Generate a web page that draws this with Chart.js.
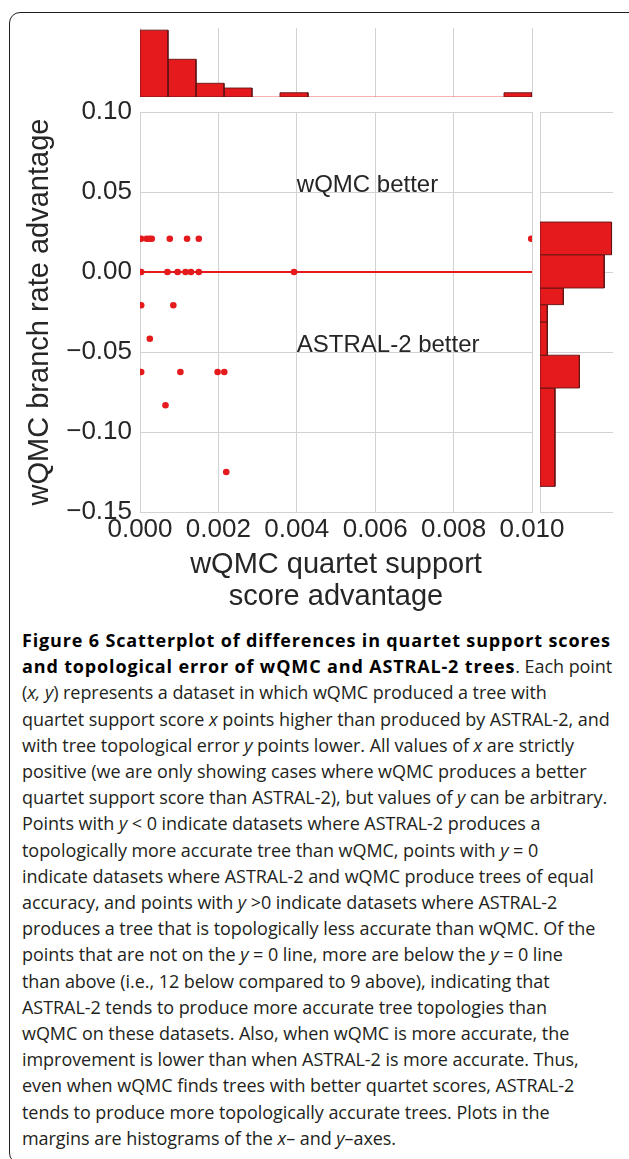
<!DOCTYPE html>
<html><head><meta charset="utf-8">
<script src="https://cdn.jsdelivr.net/npm/chart.js@4.4.0/dist/chart.umd.min.js"></script>
<style>
html,body{margin:0;padding:0;background:#fff;}
body{width:629px;height:1159px;position:relative;overflow:hidden;}
.frame{position:absolute;left:9px;top:12px;width:700px;height:1152px;border:1.5px solid #231f20;border-radius:11px;box-sizing:border-box;}
canvas{position:absolute;left:0;top:0;}
.caption{position:absolute;left:22px;top:627px;font-family:"Open Sans",sans-serif;font-size:18px;line-height:26.2px;color:#231f20;white-space:nowrap;letter-spacing:-0.05px;}
.caption b{font-weight:700;color:#000;letter-spacing:0.85px;}
</style></head><body>
<div class="frame"></div>
<canvas id="mainChart" width="629" height="620"></canvas>
<canvas id="topHist" width="629" height="97"></canvas>
<canvas id="rightHist" width="629" height="620"></canvas>
<div class="caption">
<div><b>Figure 6 Scatterplot of differences in quartet support scores</b></div>
<div><b>and topological error of wQMC and ASTRAL-2 trees</b>. Each point</div>
<div>(<i>x, y</i>) represents a dataset in which wQMC produced a tree with</div>
<div>quartet support score <i>x</i> points higher than produced by ASTRAL-2, and</div>
<div>with tree topological error <i>y</i> points lower. All values of <i>x</i> are strictly</div>
<div>positive (we are only showing cases where wQMC produces a better</div>
<div>quartet support score than ASTRAL-2), but values of <i>y</i> can be arbitrary.</div>
<div>Points with <i>y</i> &lt; 0 indicate datasets where ASTRAL-2 produces a</div>
<div>topologically more accurate tree than wQMC, points with <i>y</i> = 0</div>
<div>indicate datasets where ASTRAL-2 and wQMC produce trees of equal</div>
<div>accuracy, and points with <i>y</i> &gt;0 indicate datasets where ASTRAL-2</div>
<div>produces a tree that is topologically less accurate than wQMC. Of the</div>
<div>points that are not on the <i>y</i> = 0 line, more are below the <i>y</i> = 0 line</div>
<div>than above (i.e., 12 below compared to 9 above), indicating that</div>
<div>ASTRAL-2 tends to produce more accurate tree topologies than</div>
<div>wQMC on these datasets. Also, when wQMC is more accurate, the</div>
<div>improvement is lower than when ASTRAL-2 is more accurate. Thus,</div>
<div>even when wQMC finds trees with better quartet scores, ASTRAL-2</div>
<div>tends to produce more topologically accurate trees. Plots in the</div>
<div>margins are histograms of the <i>x</i>– and <i>y</i>–axes.</div>
</div>
<script>
// ---------- data ----------
const xTicks = [0, 0.002, 0.004, 0.006, 0.008, 0.010];
const yTicks = [-0.15, -0.10, -0.05, 0.00, 0.05, 0.10];

const scatterX = [0.00003, 0.00017, 0.00024, 0.00030, 0.00076, 0.00120, 0.00150, 0.00998,
                  0.00003, 0.00070, 0.00096, 0.00116, 0.00130, 0.00150, 0.00393,
                  0.00003, 0.00085,
                  0.00025,
                  0.00003, 0.00103, 0.00198, 0.00215,
                  0.00065,
                  0.00220];
const scatterY = [0.0208, 0.0208, 0.0208, 0.0208, 0.0208, 0.0208, 0.0208, 0.0208,
                  0, 0, 0, 0, 0, 0, 0,
                  -0.0208, -0.0208,
                  -0.0417,
                  -0.0625, -0.0625, -0.0625, -0.0625,
                  -0.0833,
                  -0.1250];

const xBinEdges = [0, 0.000714, 0.001429, 0.002143, 0.002857, 0.003571, 0.004286, 0.005,
                   0.005714, 0.006429, 0.007143, 0.007857, 0.008571, 0.009286, 0.010];
const xBinHeights = [15.6, 8.8, 3.2, 2.1, 0, 1.0, 0, 0, 0, 0, 0, 0, 0, 1.0];

const yBinEdges = [0.03125, 0.0108, -0.0100, -0.0204, -0.03125, -0.0520, -0.0725, -0.1340];
const yBinLengths = [9.8, 8.8, 3.2, 1.0, 1.0, 5.4, 2.05];

const annotations = [
  {text: 'wQMC better', x: 0.004, y: 0.05},
  {text: 'ASTRAL-2 better', x: 0.004, y: -0.05}
];

// ---------- style ----------
const RED = '#e41a1c';
const EDGE = 'rgba(90,20,20,0.85)';
const GRID = '#d2d2d2';
const TXT = '#262626';
Chart.defaults.font.family = "'Liberation Sans', Arial, sans-serif";
Chart.defaults.color = TXT;
Chart.defaults.animation = false;

const fmtMinus = (v, d) => v.toFixed(d).replace('-', '\u2212');
const setTicks = arr => (s => { s.ticks = arr.map(v => ({value: v})); });

// ---------- main scatter ----------
const annotPlugin = {
  id: 'annot',
  afterDatasetsDraw(chart) {
    const {ctx, scales} = chart;
    ctx.save();
    ctx.font = "24px 'Liberation Sans', Arial, sans-serif";
    ctx.fillStyle = TXT;
    ctx.textAlign = 'left';
    ctx.textBaseline = 'alphabetic';
    annotations.forEach(a => ctx.fillText(a.text, scales.x.getPixelForValue(a.x), scales.y.getPixelForValue(a.y)));
    ctx.restore();
  }
};

new Chart(document.getElementById('mainChart'), {
  type: 'scatter',
  data: {
    datasets: [
      {
        data: scatterX.map((x, i) => ({x, y: scatterY[i]})),
        backgroundColor: RED, borderWidth: 0, pointRadius: 3.3, clip: 0
      },
      {
        data: [{x: xTicks[0], y: 0}, {x: xTicks[xTicks.length - 1], y: 0}],
        showLine: true, borderColor: RED, borderWidth: 2, pointRadius: 0
      }
    ]
  },
  options: {
    responsive: false,
    layout: {padding: {left: 0, right: 97, top: 112, bottom: 0}},
    plugins: {legend: {display: false}, tooltip: {enabled: false}},
    scales: {
      x: {
        type: 'linear', min: 0, max: 0.01,
        afterBuildTicks: setTicks(xTicks),
        afterFit: s => { s.height = 108; },
        ticks: {font: {size: 26}, color: TXT, padding: 2, maxRotation: 0, autoSkip: false,
                callback: v => fmtMinus(v, 3)},
        grid: {color: GRID, lineWidth: 1, drawTicks: false},
        border: {display: true, color: GRID},
        title: {display: true, text: ['wQMC quartet support', 'score advantage'],
                font: {size: 29, lineHeight: 1.1}, color: TXT, padding: {top: 0, bottom: 7}}
      },
      y: {
        type: 'linear', min: -0.15, max: 0.10,
        afterBuildTicks: setTicks(yTicks),
        afterFit: s => { s.width = 140; },
        ticks: {font: {size: 26}, color: TXT, padding: 8, autoSkip: false,
                callback: v => fmtMinus(v, 2)},
        grid: {color: GRID, lineWidth: 1, drawTicks: false},
        border: {display: true, color: GRID},
        title: {display: true, text: 'wQMC branch rate advantage',
                font: {size: 29, lineHeight: 1.2}, color: TXT, padding: {top: 23, bottom: 0}}
      }
    }
  },
  plugins: [annotPlugin]
});

// ---------- top histogram (x) ----------
const topSets = [];
xBinHeights.forEach((h, i) => {
  if (h <= 0) return;
  const lo = xBinEdges[i], hi = xBinEdges[i + 1];
  topSets.push({
    data: [{x: lo, y: 0}, {x: lo, y: h}, {x: hi, y: h}, {x: hi, y: 0}, {x: lo, y: 0}],
    showLine: true, fill: 'shape', backgroundColor: RED, borderColor: EDGE,
    borderWidth: 1, pointRadius: 0, tension: 0
  });
});
topSets.push({
  data: [{x: xBinEdges[0], y: 0}, {x: xBinEdges[xBinEdges.length - 1], y: 0}],
  showLine: true, borderColor: 'rgba(228,26,28,0.45)', borderWidth: 1.5, pointRadius: 0
});

new Chart(document.getElementById('topHist'), {
  type: 'scatter',
  data: {datasets: topSets},
  options: {
    responsive: false,
    layout: {padding: {left: 140, right: 97, top: 28, bottom: 0}},
    plugins: {legend: {display: false}, tooltip: {enabled: false}},
    scales: {
      x: {
        type: 'linear', min: 0, max: 0.01,
        afterBuildTicks: setTicks(xTicks),
        afterFit: s => { s.height = 0; },
        ticks: {display: false},
        grid: {color: GRID, lineWidth: 1, drawTicks: false},
        border: {display: false}
      },
      y: {type: 'linear', min: 0, max: 16.1, display: false}
    }
  }
});

// ---------- right histogram (y) ----------
const rightSets = yBinLengths.map((len, i) => {
  const hi = yBinEdges[i], lo = yBinEdges[i + 1];
  return {
    data: [{x: 0, y: hi}, {x: len, y: hi}, {x: len, y: lo}, {x: 0, y: lo}, {x: 0, y: hi}],
    showLine: true, fill: 'shape', backgroundColor: RED, borderColor: EDGE,
    borderWidth: 1, pointRadius: 0, tension: 0
  };
});

new Chart(document.getElementById('rightHist'), {
  type: 'scatter',
  data: {datasets: rightSets},
  options: {
    responsive: false,
    layout: {padding: {left: 540, right: 16, top: 112, bottom: 108}},
    plugins: {legend: {display: false}, tooltip: {enabled: false}},
    scales: {
      x: {type: 'linear', min: 0, max: 10, display: false},
      y: {
        type: 'linear', min: -0.15, max: 0.10,
        afterBuildTicks: setTicks(yTicks),
        afterFit: s => { s.width = 0; },
        ticks: {display: false},
        grid: {color: GRID, lineWidth: 1, drawTicks: false},
        border: {display: true, color: GRID}
      }
    }
  }
});
</script>
</body></html>
